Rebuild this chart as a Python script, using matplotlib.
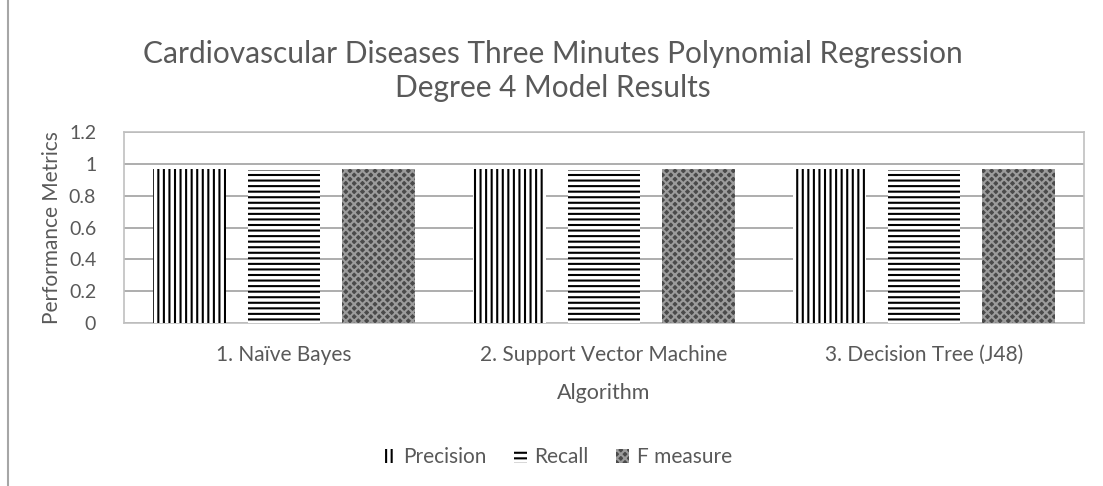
import matplotlib
matplotlib.use("Agg")
import matplotlib.pyplot as plt
import numpy as np
from matplotlib.patches import Patch
from matplotlib.lines import Line2D

plt.rcParams['font.family'] = ['Lato', 'DejaVu Sans']
plt.rcParams['hatch.linewidth'] = 1.5

categories = ["1. Naïve Bayes", "2. Support Vector Machine", "3. Decision Tree (J48)"]
series_names = ["Precision", "Recall", "F measure"]
precision = [0.97, 0.97, 0.97]
recall = [0.96, 0.96, 0.96]
f_measure = [0.97, 0.97, 0.97]
yticks = [0, 0.2, 0.4, 0.6, 0.8, 1, 1.2]
ytick_labels = ["0", "0.2", "0.4", "0.6", "0.8", "1", "1.2"]

title = "Cardiovascular Diseases Three Minutes Polynomial Regression\nDegree 4 Model Results"
text_color = "#595959"

fig = plt.figure(figsize=(11.03, 4.86), dpi=100)
ax = fig.add_axes([124/1103, 1-323/486, (1084-124)/1103, (323-132)/486])

x = np.arange(len(categories))
width = 0.228
step = 0.294
styles = [
    dict(facecolor="white", edgecolor="black", hatch="|||"),
    dict(facecolor="white", edgecolor="black", hatch="---"),
    dict(facecolor="#4a4a4a", edgecolor="#9c9c9c", hatch="xxxx"),
]
all_vals = [precision, recall, f_measure]
for i, (vals, st) in enumerate(zip(all_vals, styles)):
    ax.bar(x + (i - 1) * step, vals, width, linewidth=0, label=series_names[i], zorder=3, **st)

ax.set_xlim(-0.5, 2.5)
ax.set_ylim(0, 1.2)
ax.set_yticks(yticks)
ax.set_yticklabels(ytick_labels)
ax.set_xticks(x)
ax.set_xticklabels(categories)
ax.tick_params(axis='both', length=0, labelsize=15, colors=text_color)
ax.tick_params(axis='y', pad=20, labelsize=14)
ax.tick_params(axis='x', pad=16)
ax.grid(axis='y', color="#a0a0a0", linewidth=1.2, zorder=0)
ax.set_axisbelow(True)
for s in ax.spines.values():
    s.set_color("#c0c0c0")
    s.set_linewidth(1.2)

ax.set_xlabel("Algorithm", fontsize=15.5, color=text_color, labelpad=13)
ax.set_ylabel("Performance Metrics", fontsize=15, color=text_color, labelpad=5)

fig.text(0.5015, 1-71/486, title, ha='center', va='center', fontsize=21.5,
         color=text_color, linespacing=1.25)

handles = [Patch(linewidth=0, **st) for st in styles]
fig.legend(handles, series_names, loc='center', bbox_to_anchor=(0.505, 1-457/486),
           ncol=3, frameon=False, fontsize=15, handlelength=0.65, handleheight=0.65,
           handletextpad=0.35, columnspacing=1.3, labelcolor=text_color)

fig.add_artist(Line2D([8/1103, 8/1103], [0, 1], transform=fig.transFigure,
                      color="#a6a6a6", linewidth=1.5))

fig.savefig("out.png", dpi=100, facecolor="white")
